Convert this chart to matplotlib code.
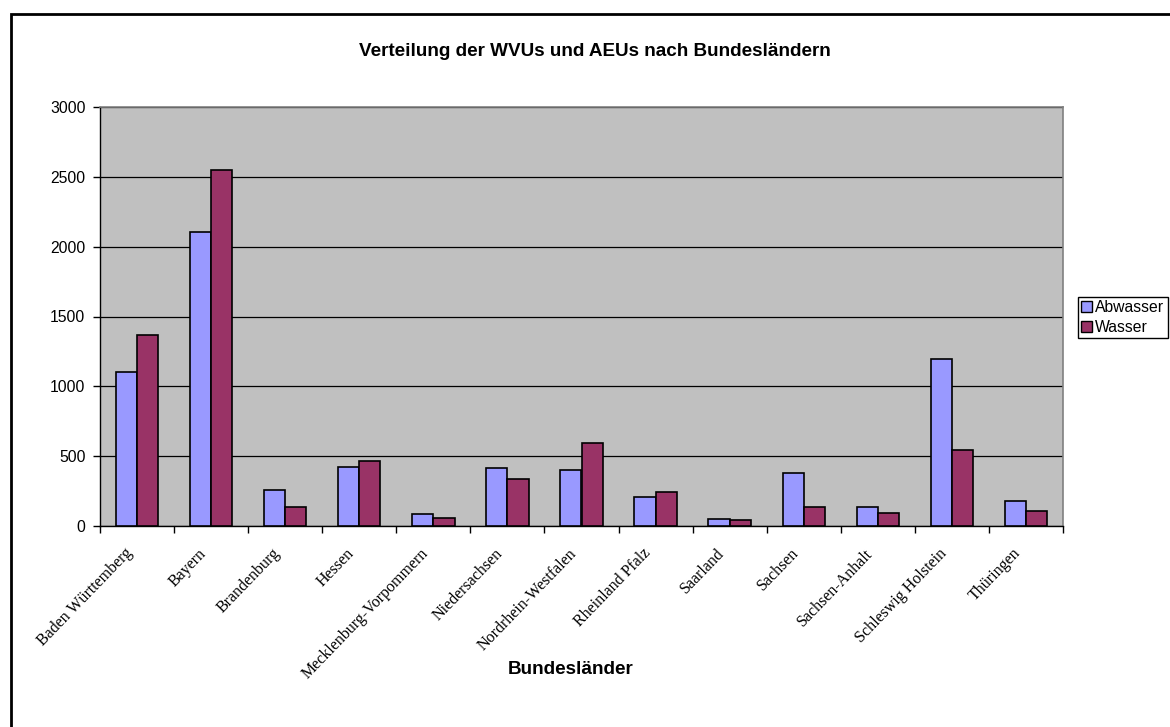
import matplotlib
matplotlib.use("Agg")
import matplotlib.pyplot as plt
from matplotlib.patches import Rectangle, Patch
import numpy as np

# Number of utilities per federal state
laender = [
    "Baden Württemberg", "Bayern", "Brandenburg", "Hessen",
    "Mecklenburg-Vorpommern", "Niedersachsen", "Nordrhein-Westfalen",
    "Rheinland Pfalz", "Saarland", "Sachsen", "Sachsen-Anhalt",
    "Schleswig Holstein", "Thüringen",
]
abwasser = [1105, 2105, 258, 425, 84, 415, 403, 210, 52, 381, 138, 1197, 179]
wasser = [1368, 2548, 134, 465, 55, 336, 596, 245, 45, 134, 95, 544, 110]
yticks = [0, 500, 1000, 1500, 2000, 2500, 3000]

W, H = 1170, 727
fig = plt.figure(figsize=(W / 100, H / 100), dpi=100)
fig.patch.set_facecolor("white")

# outer chart frame
fig.add_artist(Rectangle((11 / W, -0.05), 1.2, 1 - 14 / H + 0.05,
                         transform=fig.transFigure, fill=False,
                         edgecolor="black", linewidth=2.0))

left, right, top, bottom = 100, 1063, 107, 526
ax = fig.add_axes([left / W, 1 - bottom / H, (right - left) / W, (bottom - top) / H])
ax.set_facecolor("#C0C0C0")

n = len(laender)
x = np.arange(n)
bw = 1 / 3.5
ax.bar(x - bw / 2, abwasser, width=bw, color="#9999FF", edgecolor="black",
       linewidth=1.2, zorder=3, label="Abwasser")
ax.bar(x + bw / 2, wasser, width=bw, color="#993366", edgecolor="black",
       linewidth=1.2, zorder=3, label="Wasser")

ax.set_xlim(-0.5, n - 0.5)
ax.set_ylim(0, 3000)
ax.set_yticks(yticks)
ax.set_yticklabels([str(v) for v in yticks], fontfamily="Liberation Sans", fontsize=11.3)
ax.yaxis.grid(True, color="black", linewidth=0.9, zorder=1)
ax.set_axisbelow(True)

# category boundaries carry the x ticks; the slanted labels hang from
# invisible minor ticks set slightly left of each group centre
ax.set_xticks(np.arange(-0.5, n, 1.0))
ax.set_xticklabels([])
ax.set_xticks(x - 0.1, minor=True)
ax.set_xticklabels(laender, minor=True, rotation=46, ha="right", va="center",
                   rotation_mode="anchor", fontfamily="Liberation Serif", fontsize=11.5)
ax.tick_params(axis="x", which="major", direction="out", length=5, width=1, color="black")
ax.tick_params(axis="x", which="minor", length=0, pad=18)
ax.tick_params(axis="y", direction="out", length=5, width=1, color="black", pad=5.5)

for side in ("top", "right"):
    ax.spines[side].set_color("#808080")
    ax.spines[side].set_linewidth(1.2)
for side in ("left", "bottom"):
    ax.spines[side].set_color("black")
    ax.spines[side].set_linewidth(1.0)

fig.text(595 / W, 1 - 52 / H, "Verteilung der WVUs und AEUs nach Bundesländern",
         ha="center", va="center", fontfamily="Liberation Sans", fontweight="bold",
         fontsize=13.6)
fig.text(571 / W, 1 - 670 / H, "Bundesländer", ha="center", va="center",
         fontfamily="Liberation Sans", fontweight="bold", fontsize=13.6)

handles = [Patch(facecolor="#9999FF", edgecolor="black", linewidth=1.0, label="Abwasser"),
           Patch(facecolor="#993366", edgecolor="black", linewidth=1.0, label="Wasser")]
leg = fig.legend(handles=handles, loc="upper left", bbox_to_anchor=(1078 / W, 1 - 297 / H),
                 frameon=True, fancybox=False, edgecolor="black", framealpha=1,
                 prop={"family": "Liberation Sans", "size": 11.3},
                 handlelength=0.7, handleheight=0.7, handletextpad=0.2,
                 borderpad=0.2, labelspacing=0.3, borderaxespad=0)
leg.get_frame().set_linewidth(1.0)

fig.savefig("out.png", dpi=100)
